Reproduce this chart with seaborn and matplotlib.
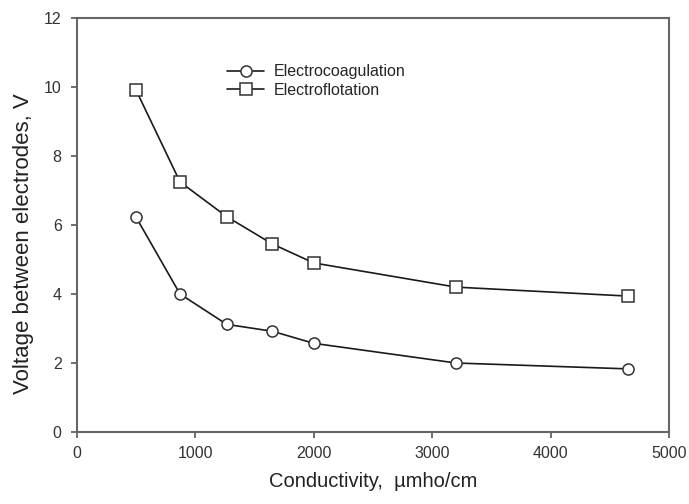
import pandas as pd
import matplotlib
matplotlib.use('Agg')
import matplotlib.pyplot as plt
import seaborn as sns

# values
conductivity = [500, 870, 1265, 1650, 2000, 3200, 4650]
coagulation = [6.22, 4.0, 3.12, 2.92, 2.57, 2.0, 1.83]
flotation = [9.9, 7.25, 6.24, 5.45, 4.9, 4.2, 3.94]
series_names = ['Electrocoagulation', 'Electroflotation']

df = pd.DataFrame({
    'x': conductivity * 2,
    'y': coagulation + flotation,
    'series': [series_names[0]] * len(conductivity) + [series_names[1]] * len(conductivity),
})

sns.set_style('ticks')
plt.rcParams['font.family'] = ['Liberation Sans', 'DejaVu Sans']

fig = plt.figure(figsize=(6.89, 5.04), dpi=100)
# axes box: x 77..669 px, y 18..432 px
ax = fig.add_axes([77 / 689, (504 - 432) / 504, 592 / 689, 414 / 504])

sns.lineplot(data=df, x='x', y='y', style='series', markers=['o', 's'], dashes=False,
             color='#1a1a1a', linewidth=1.2, markersize=8, markerfacecolor='white',
             markeredgecolor='#333333', markeredgewidth=1.1, ax=ax)

ax.set_xlim(0, 5000)
ax.set_ylim(0, 12)
ax.set_xticks([0, 1000, 2000, 3000, 4000, 5000])
ax.set_yticks([0, 2, 4, 6, 8, 10, 12])
ax.tick_params(axis='x', direction='out', length=4, width=1.2, labelsize=11.5,
               colors='#555555', labelcolor='#333333', pad=6)
ax.tick_params(axis='y', direction='out', length=4, width=1.2, labelsize=11.5,
               colors='#555555', labelcolor='#333333', pad=7)
for s in ax.spines.values():
    s.set_color('#666666')
    s.set_linewidth(1.5)

ax.set_xlabel('Conductivity,  \u00b5mho/cm', fontsize=14.5, color='#222222', labelpad=8)
ax.set_ylabel('Voltage between electrodes, V', fontsize=16, color='#222222')
ax.yaxis.set_label_coords(-0.073, 0.454)

leg = ax.legend(loc='upper left', bbox_to_anchor=(0.253, 0.888), frameon=False,
                fontsize=11.5, handlelength=2.35, handletextpad=0.6, labelspacing=0.2,
                borderpad=0, borderaxespad=0, title=None)

fig.savefig('out.png', dpi=100)
